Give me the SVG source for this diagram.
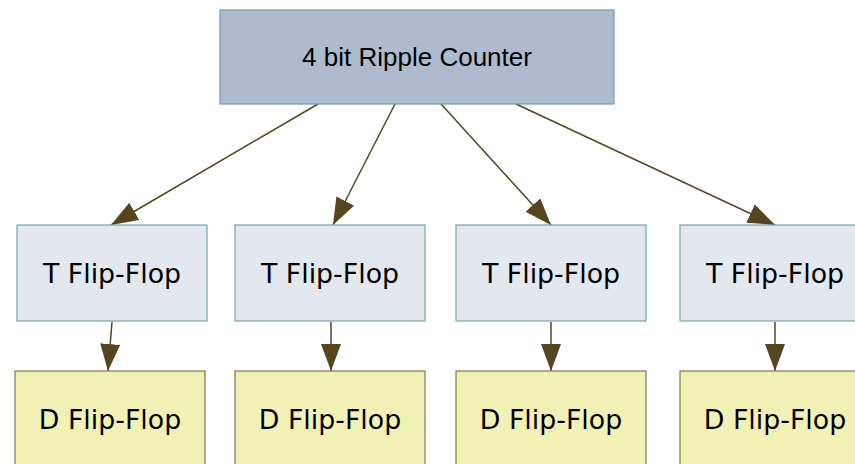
<svg xmlns="http://www.w3.org/2000/svg" width="855" height="464" viewBox="0 0 855 464">
<style>
.top rect{fill:#aebbcf;stroke:#6e9fa4;stroke-width:1.2}
.t rect{fill:#e3e7ee;stroke:#74a6ab;stroke-width:1.2}
.d rect{fill:#f2f1b5;stroke:#7e7a52;stroke-width:1.2}
.top text{font-family:"Liberation Sans",Arial,sans-serif;font-size:26px;fill:#000;text-anchor:middle}
.t text,.d text{font-family:"DejaVu Sans",Verdana,sans-serif;font-size:26.8px;fill:#000;text-anchor:middle}
#edges path{stroke:#574520;stroke-width:1.5;fill:none}
</style>
<defs>
<marker id="ah" viewBox="0 0 27 20" refX="27" refY="10" markerWidth="27" markerHeight="20" markerUnits="userSpaceOnUse" orient="auto">
<path d="M0,0 L27,10 L0,20 Z" fill="#574520"/>
</marker>
</defs>
<g id="edges">
<path d="M318,104 L111,225" marker-end="url(#ah)"/>
<path d="M395,104 L333,225" marker-end="url(#ah)"/>
<path d="M441,104 L551,225" marker-end="url(#ah)"/>
<path d="M516,104 L775,225" marker-end="url(#ah)"/>
<path d="M112,322 L108,371" marker-end="url(#ah)"/>
<path d="M331,322 L331,371" marker-end="url(#ah)"/>
<path d="M551,322 L551,371" marker-end="url(#ah)"/>
<path d="M775,322 L775,371" marker-end="url(#ah)"/>
</g>
<g id="root" class="top"><rect x="220" y="10" width="394" height="94"/><text x="417" y="66">4 bit Ripple Counter</text></g>
<g id="t1" class="t"><rect x="17" y="225" width="190" height="96"/><text x="112" y="283">T Flip-Flop</text></g>
<g id="t2" class="t"><rect x="235" y="225" width="190" height="96"/><text x="330" y="283">T Flip-Flop</text></g>
<g id="t3" class="t"><rect x="456" y="225" width="190" height="96"/><text x="551" y="283">T Flip-Flop</text></g>
<g id="t4" class="t"><rect x="680" y="225" width="190" height="96"/><text x="775" y="283">T Flip-Flop</text></g>
<g id="d1" class="d"><rect x="15" y="371" width="190" height="96"/><text x="110" y="429">D Flip-Flop</text></g>
<g id="d2" class="d"><rect x="235" y="371" width="190" height="96"/><text x="330" y="429">D Flip-Flop</text></g>
<g id="d3" class="d"><rect x="456" y="371" width="190" height="96"/><text x="551" y="429">D Flip-Flop</text></g>
<g id="d4" class="d"><rect x="680" y="371" width="190" height="96"/><text x="775" y="429">D Flip-Flop</text></g>
</svg>
